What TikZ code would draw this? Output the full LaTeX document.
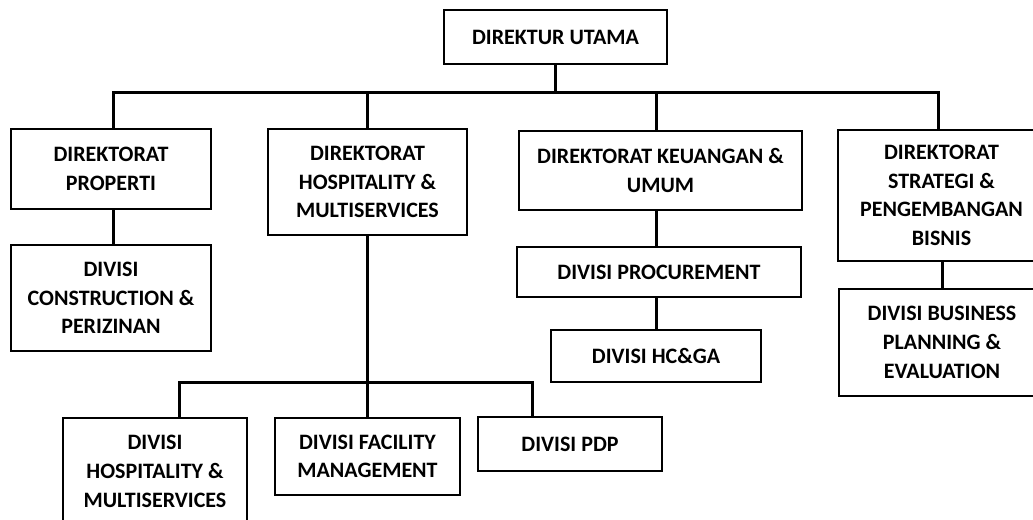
\documentclass[tikz,border=0pt]{standalone}
\usepackage{fontspec}
\setmainfont{Carlito}
\tikzset{
    orgbox/.style={draw, line width=1.5pt, fill=white, align=center, inner sep=2pt,
        font=\fontsize{16.5}{21.5}\selectfont\bfseries},
    link/.style={line width=2.25pt},
}

\begin{document}
\begin{tikzpicture}[x=0.75pt,y=0.75pt,yscale=-1,xscale=1]
\useasboundingbox (0,0) rectangle (1033,519);

%Box: top
\node[orgbox, minimum width=167.25pt, minimum height=40.5pt] (utama) at (555.5,37) {DIREKTUR UTAMA};

%Box: direktorat row
\node[orgbox, minimum width=150pt, minimum height=60pt] (properti) at (111,169) {DIREKTORAT\\PROPERTI};
\node[orgbox, minimum width=149.25pt, minimum height=79.5pt] (hospitality) at (367.5,182) {DIREKTORAT\\HOSPITALITY \&\\MULTISERVICES};
\node[orgbox, minimum width=212.25pt, minimum height=59.25pt] (keuangan) at (660.5,170.5) {DIREKTORAT KEUANGAN \&\\UMUM};
\node[orgbox, minimum width=155.25pt, minimum height=98.25pt] (strategi) at (941.5,195.5) {DIREKTORAT\\STRATEGI \&\\PENGEMBANGAN\\BISNIS};

%Box: divisi
\node[orgbox, minimum width=150pt, minimum height=79.5pt] (construction) at (111,298) {DIVISI\\CONSTRUCTION \&\\PERIZINAN};
\node[orgbox, minimum width=213pt, minimum height=37.5pt] (procurement) at (659,272) {DIVISI PROCUREMENT};
\node[orgbox, minimum width=157.5pt, minimum height=39pt] (hcga) at (656,356) {DIVISI HC\&GA};
\node[orgbox, minimum width=154.5pt, minimum height=80.25pt] (business) at (942,342.5) {DIVISI BUSINESS\\PLANNING \&\\EVALUATION};
\node[orgbox, minimum width=138pt, minimum height=80.25pt] (divhospitality) at (155,471.5) {DIVISI\\HOSPITALITY \&\\MULTISERVICES};
\node[orgbox, minimum width=138.75pt, minimum height=57.75pt] (facility) at (367.5,456.5) {DIVISI FACILITY\\MANAGEMENT};
\node[orgbox, minimum width=138pt, minimum height=40.5pt] (pdp) at (570,444) {DIVISI PDP};

%Line: main bus
\coordinate (busL) at (113,92);
\coordinate (busR) at (938,92);
\draw[link] (utama.south) -- (utama.south |- busL);
\draw[link] (properti.north -| busL) -- (busL) -- (busR) -- (busR |- strategi.north);
\draw[link] (hospitality.north) -- (hospitality.north |- busL);
\draw[link] (keuangan.north -| 656,0) -- (656,92);

%Line: direktorat to divisi
\draw[link] (properti.south -| busL) -- (construction.north -| busL);
\draw[link] (keuangan.south -| 656,0) -- (procurement.north -| 656,0);
\draw[link] (procurement.south -| hcga.north) -- (hcga.north);
\draw[link] (strategi.south -| business.north) -- (business.north);

%Line: sub bus
\coordinate (subL) at (179,382);
\coordinate (subR) at (532,382);
\draw[link] (hospitality.south) -- (hospitality.south |- subL);
\draw[link] (divhospitality.north -| subL) -- (subL) -- (subR) -- (pdp.north -| subR);
\draw[link] (facility.north) -- (facility.north |- subL);

\end{tikzpicture}
\end{document}
